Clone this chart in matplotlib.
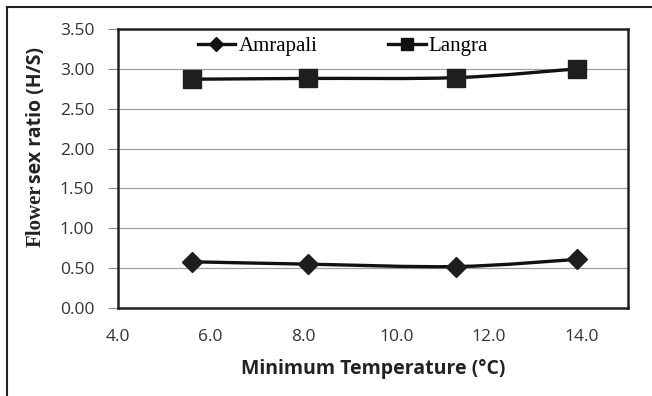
import numpy as np
import matplotlib
matplotlib.use("Agg")
import matplotlib.pyplot as plt
from matplotlib.path import Path
from matplotlib.patches import PathPatch
from matplotlib.lines import Line2D

# ---- data ----
temp_amrapali = [5.6, 8.1, 11.3, 13.9]
ratio_amrapali = [0.58, 0.55, 0.52, 0.61]
temp_langra = [5.6, 8.1, 11.3, 13.9]
ratio_langra = [2.87, 2.88, 2.89, 3.00]
series_names = ["Amrapali", "Langra"]
x_ticks = [4.0, 6.0, 8.0, 10.0, 12.0, 14.0]
y_ticks = [0.0, 0.5, 1.0, 1.5, 2.0, 2.5, 3.0, 3.5]

W, H = 652, 396
fig = plt.figure(figsize=(W / 100, H / 100), dpi=100)
ax = fig.add_axes([118 / W, 1 - 308 / H, (628 - 118) / W, (308 - 29) / H])

sans = ["Open Sans", "DejaVu Sans"]
serif = ["Liberation Serif", "DejaVu Serif"]
line_col = "#111111"


def smooth_path(xs, ys, tension=0.5):
    # Catmull-Rom style smoothing through the data points (Excel "smoothed line")
    xs = np.asarray(xs, float)
    ys = np.asarray(ys, float)
    n = len(xs)
    verts = [(xs[0], ys[0])]
    codes = [Path.MOVETO]
    for i in range(n - 1):
        p0 = np.array([xs[max(i - 1, 0)], ys[max(i - 1, 0)]])
        p1 = np.array([xs[i], ys[i]])
        p2 = np.array([xs[i + 1], ys[i + 1]])
        p3 = np.array([xs[min(i + 2, n - 1)], ys[min(i + 2, n - 1)]])
        c1 = p1 + (p2 - p0) * tension / 3
        c2 = p2 - (p3 - p1) * tension / 3
        verts += [tuple(c1), tuple(c2), tuple(p2)]
        codes += [Path.CURVE4] * 3
    return Path(verts, codes)


for xs, ys, mk, ms in [(temp_amrapali, ratio_amrapali, "D", 10),
                       (temp_langra, ratio_langra, "s", 13)]:
    ax.add_patch(PathPatch(smooth_path(xs, ys), fill=False, lw=2.4,
                           edgecolor=line_col, zorder=3))
    ax.plot(xs, ys, linestyle="none", marker=mk, markersize=ms,
            color="#1e1e1e", zorder=4)

ax.set_xlim(4.0, 15.0)
ax.set_ylim(0.0, 3.5)
ax.set_xticks(x_ticks)
ax.set_yticks(y_ticks)
ax.set_xticklabels([f"{v:.1f}" for v in x_ticks], family=sans, fontsize=12.5, color="#333333")
ax.set_yticklabels([f"{v:.2f}" for v in y_ticks], family=sans, fontsize=12.5, color="#333333")
ax.tick_params(axis="x", length=0, pad=15)
ax.tick_params(axis="y", length=7, width=0.8, color="#888888", pad=10)
ax.grid(axis="y", color="#a0a0a0", lw=0.9)
ax.set_axisbelow(True)
for s in ax.spines.values():
    s.set_linewidth(1.8)
    s.set_color("#222222")

ax.set_xlabel("Minimum Temperature (°C)", family=sans, fontsize=14,
              fontweight="bold", color="#222222", labelpad=10)

# y label: "Flower" in serif, rest in sans
fig.text(36 / W, 1 - 247 / H, "Flower", rotation=90, ha="center", va="bottom",
         family=serif, fontsize=15, fontweight="bold", color="#222222")
fig.text(36 / W, 1 - 183 / H, "sex ratio (H/S)", rotation=90, ha="center", va="bottom",
         family=sans, fontsize=14, fontweight="bold", color="#222222")

handles = [Line2D([], [], color=line_col, lw=2.4, marker="D", markersize=7),
           Line2D([], [], color=line_col, lw=2.4, marker="s", markersize=9)]
ax.legend(handles, series_names, loc="upper center", ncol=2, frameon=False,
          prop={"family": serif, "size": 15}, handlelength=1.8, handletextpad=0.15,
          columnspacing=3.4, bbox_to_anchor=(0.441, 1.041))

# outer frame (top and left only visible)
fig.add_artist(Line2D([7 / W, 7 / W], [0, 1 - 7 / H], transform=fig.transFigure,
                      color="#222222", lw=1.5))
fig.add_artist(Line2D([7 / W, 1], [1 - 7 / H, 1 - 7 / H], transform=fig.transFigure,
                      color="#222222", lw=1.5))

fig.savefig("out.png", dpi=100)
